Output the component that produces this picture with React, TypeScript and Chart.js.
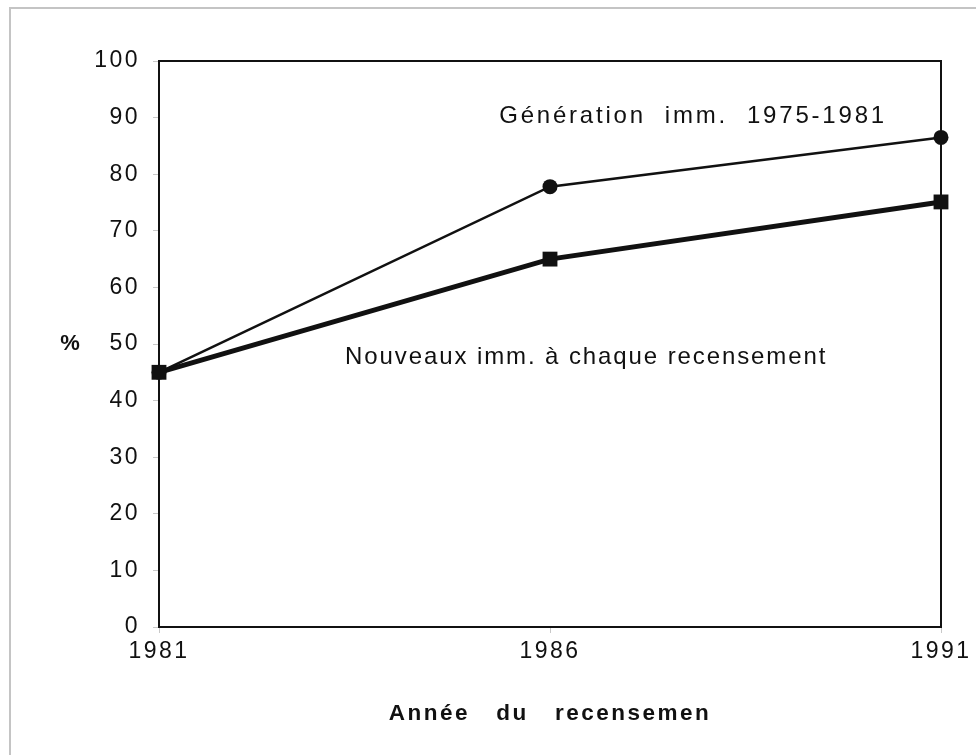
import React, { useEffect, useRef } from "react";
import { Chart, registerables } from "chart.js";

Chart.register(...registerables);

const years = [1981, 1986, 1991];
const generationValues = [45, 77.8, 86.5];
const nouveauxValues = [45, 65, 75.1];
const yTicks = [0, 10, 20, 30, 40, 50, 60, 70, 80, 90, 100];
const generationLabel = "Génération  imm.  1975-1981";
const nouveauxLabel = "Nouveaux imm. à chaque recensement";
const xTitle = "Année   du   recensemen";
const yTitle = "%";

const FONT = "'Liberation Sans', Arial, Helvetica, sans-serif";

export default function App() {
  const ref = useRef<HTMLCanvasElement | null>(null);

  useEffect(() => {
    if (!ref.current) return;

    const decor = {
      id: "decor",
      beforeDraw(chart: any) {
        const ctx = chart.ctx;
        ctx.save();
        ctx.strokeStyle = "#c4c4c4";
        ctx.lineWidth = 2;
        ctx.beginPath();
        ctx.moveTo(10, 755);
        ctx.lineTo(10, 8);
        ctx.lineTo(976, 8);
        ctx.stroke();
        ctx.restore();
        (ctx as any).letterSpacing = "2.5px";
      },
      afterDatasetsDraw(chart: any) {
        const ctx = chart.ctx;
        const { left, top, right, bottom } = chart.chartArea;
        const xs = chart.scales.x;
        const ys = chart.scales.y;
        ctx.save();
        ctx.strokeStyle = "#111";
        ctx.lineWidth = 2;
        ctx.strokeRect(left, top, right - left, bottom - top);
        ctx.fillStyle = "#111";
        ctx.font = `24px ${FONT}`;
        (ctx as any).letterSpacing = "2.8px";
        ctx.textBaseline = "middle";
        ctx.textAlign = "left";
        ctx.fillText(generationLabel, xs.getPixelForValue(1985.35), ys.getPixelForValue(90.2));
        (ctx as any).letterSpacing = "1.9px";
        ctx.fillText(nouveauxLabel, xs.getPixelForValue(1983.38), ys.getPixelForValue(47.6));
        ctx.font = `bold 22px ${FONT}`;
        ctx.textAlign = "center";
        (ctx as any).letterSpacing = "0px";
        ctx.fillText(yTitle, 70, ys.getPixelForValue(50));
        ctx.restore();
      },
    };

    const chart = new Chart(ref.current, {
      type: "line",
      data: {
        datasets: [
          {
            label: "Génération imm. 1975-1981",
            data: years.map((x, i) => ({ x, y: generationValues[i] })),
            borderColor: "#111",
            backgroundColor: "#111",
            borderWidth: 2.5,
            pointStyle: "circle",
            pointRadius: 7.5,
            pointBorderWidth: 0,
            clip: false,
          },
          {
            label: "Nouveaux imm. à chaque recensement",
            data: years.map((x, i) => ({ x, y: nouveauxValues[i] })),
            borderColor: "#111",
            backgroundColor: "#111",
            borderWidth: 5,
            pointStyle: "rect",
            pointRadius: 10.5,
            pointBorderWidth: 0,
            clip: false,
          },
        ],
      },
      options: {
        animation: false,
        responsive: true,
        maintainAspectRatio: false,
        layout: { padding: { left: 0, top: 61, right: 35, bottom: 0 } },
        plugins: { legend: { display: false }, tooltip: { enabled: false } },
        scales: {
          x: {
            type: "linear",
            min: 1981,
            max: 1991,
            afterBuildTicks(scale: any) {
              scale.ticks = years.map((v) => ({ value: v }));
            },
            afterFit(scale: any) {
              scale.height = 128;
            },
            grid: { drawOnChartArea: false, drawTicks: true, tickLength: 6, color: "#c8c8c8" },
            border: { display: false },
            ticks: {
              color: "#111",
              font: { family: FONT, size: 23 },
              padding: 5,
              maxRotation: 0,
              callback: (v: any) => String(v),
            },
            title: {
              display: true,
              text: xTitle,
              color: "#111",
              font: { family: FONT, size: 22.5, weight: "bold" },
              padding: { top: 0, bottom: 28 },
            },
          },
          y: {
            min: 0,
            max: 100,
            afterBuildTicks(scale: any) {
              scale.ticks = yTicks.map((v) => ({ value: v }));
            },
            afterFit(scale: any) {
              scale.width = 159;
            },
            grid: { drawOnChartArea: false, drawTicks: true, tickLength: 6, color: "#c8c8c8" },
            border: { display: false },
            ticks: {
              color: "#111",
              font: { family: FONT, size: 23 },
              padding: 13,
              callback: (v: any) => String(v),
            },
          },
        },
      },
      plugins: [decor],
    });
    return () => chart.destroy();
  }, []);

  return (
    <div style={{ position: "fixed", left: 0, top: 0, width: 976, height: 755, background: "#fff" }}>
      <canvas ref={ref} />
    </div>
  );
}
